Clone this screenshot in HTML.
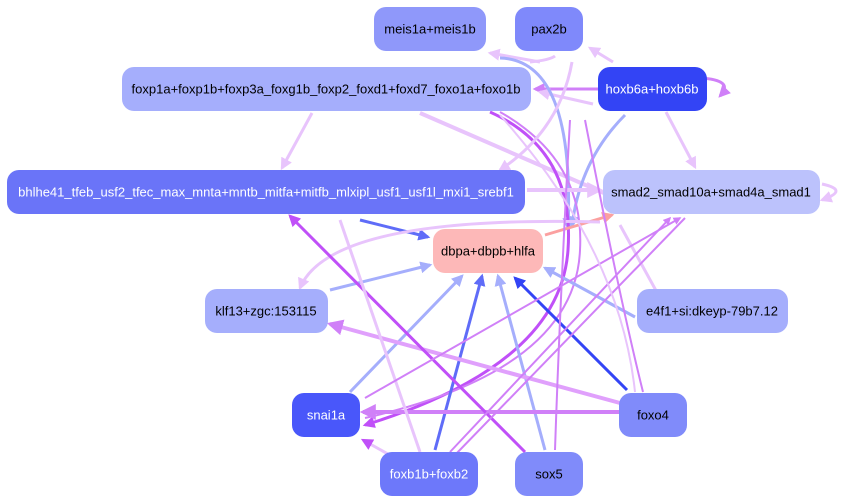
<!DOCTYPE html>
<html><head><style>body{margin:0;background:#fff}svg{display:block}text{font-family:"Liberation Sans",sans-serif;font-size:13px;text-anchor:middle;dominant-baseline:central}</style></head><body>
<svg width="852" height="504" viewBox="0 0 852 504">
<defs>
<marker id="a1" viewBox="0 0 10 10" refX="8" refY="5" markerWidth="4" markerHeight="4" orient="auto"><path d="M0 0L10 5L0 10z" fill="#e8c4fc"/></marker>
<marker id="a2" viewBox="0 0 10 10" refX="8" refY="5" markerWidth="4" markerHeight="4" orient="auto"><path d="M0 0L10 5L0 10z" fill="#d080f8"/></marker>
<marker id="a3" viewBox="0 0 10 10" refX="8" refY="5" markerWidth="4" markerHeight="4" orient="auto"><path d="M0 0L10 5L0 10z" fill="#a5aefc"/></marker>
<marker id="a4" viewBox="0 0 10 10" refX="8" refY="5" markerWidth="4" markerHeight="4" orient="auto"><path d="M0 0L10 5L0 10z" fill="#5f6cf8"/></marker>
<marker id="a5" viewBox="0 0 10 10" refX="8" refY="5" markerWidth="4" markerHeight="4" orient="auto"><path d="M0 0L10 5L0 10z" fill="#3344f5"/></marker>
<marker id="a6" viewBox="0 0 10 10" refX="8" refY="5" markerWidth="4" markerHeight="4" orient="auto"><path d="M0 0L10 5L0 10z" fill="#fba0a0"/></marker>
<marker id="a7" viewBox="0 0 10 10" refX="8" refY="5" markerWidth="4" markerHeight="4" orient="auto"><path d="M0 0L10 5L0 10z" fill="#c050f8"/></marker>
</defs>
<g fill="none" stroke-width="3">
<path d="M312 113L282 168" stroke="#e8c4fc" marker-end="url(#a1)"/>
<path d="M598 89L535 89" stroke="#d080f8" marker-end="url(#a2)"/>
<path d="M700 78Q735 80 720 96" stroke="#d080f8" marker-end="url(#a2)"/>
<path d="M593 104L540 92" stroke="#e8c4fc" marker-end="url(#a1)"/>
<path d="M613 62L590 48" stroke="#e8c4fc" marker-end="url(#a1)"/>
<path d="M420 113L620 200" stroke="#e8c4fc" stroke-width="4" marker-end="url(#a1)"/>
<path d="M666 112L695 167" stroke="#e8c4fc" marker-end="url(#a1)"/>
<path d="M625 115Q580 160 572 226" stroke="#a5aefc" marker-end="url(#a3)"/>
<path d="M530 62Q550 60 555 56" stroke="#e8c4fc"/>
<path d="M540 62L490 53" stroke="#e8c4fc" marker-end="url(#a1)"/>
<path d="M500 58Q575 60 568 228" stroke="#a5aefc" marker-end="url(#a3)"/>
<path d="M490 112Q575 150 568 250Q560 365 365 425" stroke="#c050f8" stroke-width="3" marker-end="url(#a7)"/>
<path d="M500 112Q585 160 580 250Q575 370 365 418" stroke="#d080f8" stroke-width="2"/>
<path d="M572 62Q560 130 500 170" stroke="#e8c4fc" marker-end="url(#a1)"/>
<path d="M527 190L600 190" stroke="#e8c4fc" stroke-width="4" marker-end="url(#a1)"/>
<path d="M822 184Q850 190 822 200" stroke="#e8c4fc" marker-end="url(#a1)"/>
<path d="M360 220L428 237" stroke="#5f6cf8" marker-end="url(#a4)"/>
<path d="M545 235L612 215" stroke="#fba0a0" marker-end="url(#a6)"/>
<path d="M600 222Q330 215 300 288" stroke="#e8c4fc" marker-end="url(#a1)"/>
<path d="M330 290L430 265" stroke="#a5aefc" marker-end="url(#a3)"/>
<path d="M635 317L545 268" stroke="#a5aefc" marker-end="url(#a3)"/>
<path d="M665 307L620 225" stroke="#e8c4fc"/>
<path d="M350 392L462 276" stroke="#a5aefc" marker-end="url(#a3)"/>
<path d="M435 450L482 276" stroke="#5f6cf8" marker-end="url(#a4)"/>
<path d="M545 450L498 276" stroke="#a5aefc" marker-end="url(#a3)"/>
<path d="M627 390L515 278" stroke="#3344f5" marker-end="url(#a5)"/>
<path d="M620 412L363 412" stroke="#d080f8" stroke-width="4" marker-end="url(#a2)"/>
<path d="M620 403L330 324" stroke="#e0a0fc" stroke-width="4" marker-end="url(#a2)"/>
<path d="M525 452L290 216" stroke="#c050f8" marker-end="url(#a7)"/>
<path d="M420 452L340 220" stroke="#e8c4fc"/>
<path d="M395 458L363 440" stroke="#e8c4fc" marker-end="url(#a7)"/>
<path d="M365 398L680 218" stroke="#d080f8" stroke-width="2" marker-end="url(#a2)"/>
<path d="M450 452L670 218" stroke="#d080f8" stroke-width="2" marker-end="url(#a2)"/>
<path d="M455 455L685 218" stroke="#d080f8" stroke-width="2"/>
<path d="M555 450Q560 300 570 120" stroke="#d080f8" stroke-width="2"/>
<path d="M643 392Q620 300 585 120" stroke="#d080f8" stroke-width="2"/>
<path d="M635 392Q620 250 500 115" stroke="#e8c4fc" stroke-width="2"/>
</g>
<g>
<rect x="374" y="7" width="112" height="44" rx="12" fill="#8f98fa"/><text x="430" y="29">meis1a+meis1b</text>
<rect x="515" y="7" width="68" height="44" rx="12" fill="#7f89fb"/><text x="549" y="29">pax2b</text>
<rect x="122" y="67" width="409" height="44" rx="12" fill="#a5aefc"/><text x="326" y="89">foxp1a+foxp1b+foxp3a_foxg1b_foxp2_foxd1+foxd7_foxo1a+foxo1b</text>
<rect x="598" y="67" width="109" height="44" rx="12" fill="#3344f5"/><text x="652" y="89" fill="#fff">hoxb6a+hoxb6b</text>
<rect x="7" y="170" width="518" height="44" rx="12" fill="#6a74f8"/><text x="266" y="192" fill="#fff">bhlhe41_tfeb_usf2_tfec_max_mnta+mntb_mitfa+mitfb_mlxipl_usf1_usf1l_mxi1_srebf1</text>
<rect x="603" y="170" width="217" height="44" rx="12" fill="#bcc2fc"/><text x="711" y="192">smad2_smad10a+smad4a_smad1</text>
<rect x="433" y="229" width="110" height="44" rx="12" fill="#fdb8b8"/><text x="488" y="251">dbpa+dbpb+hlfa</text>
<rect x="205" y="289" width="123" height="44" rx="12" fill="#a5aefc"/><text x="266" y="311">klf13+zgc:153115</text>
<rect x="637" y="289" width="151" height="44" rx="12" fill="#a5aefc"/><text x="712" y="311">e4f1+si:dkeyp-79b7.12</text>
<rect x="292" y="393" width="68" height="44" rx="12" fill="#4957fa"/><text x="326" y="415" fill="#fff">snai1a</text>
<rect x="619" y="393" width="68" height="44" rx="12" fill="#808bfa"/><text x="653" y="415">foxo4</text>
<rect x="380" y="452" width="98" height="44" rx="12" fill="#6d78fa"/><text x="429" y="474" fill="#fff">foxb1b+foxb2</text>
<rect x="515" y="452" width="68" height="44" rx="12" fill="#808bfa"/><text x="549" y="474">sox5</text>
</g>
</svg>
</body></html>
